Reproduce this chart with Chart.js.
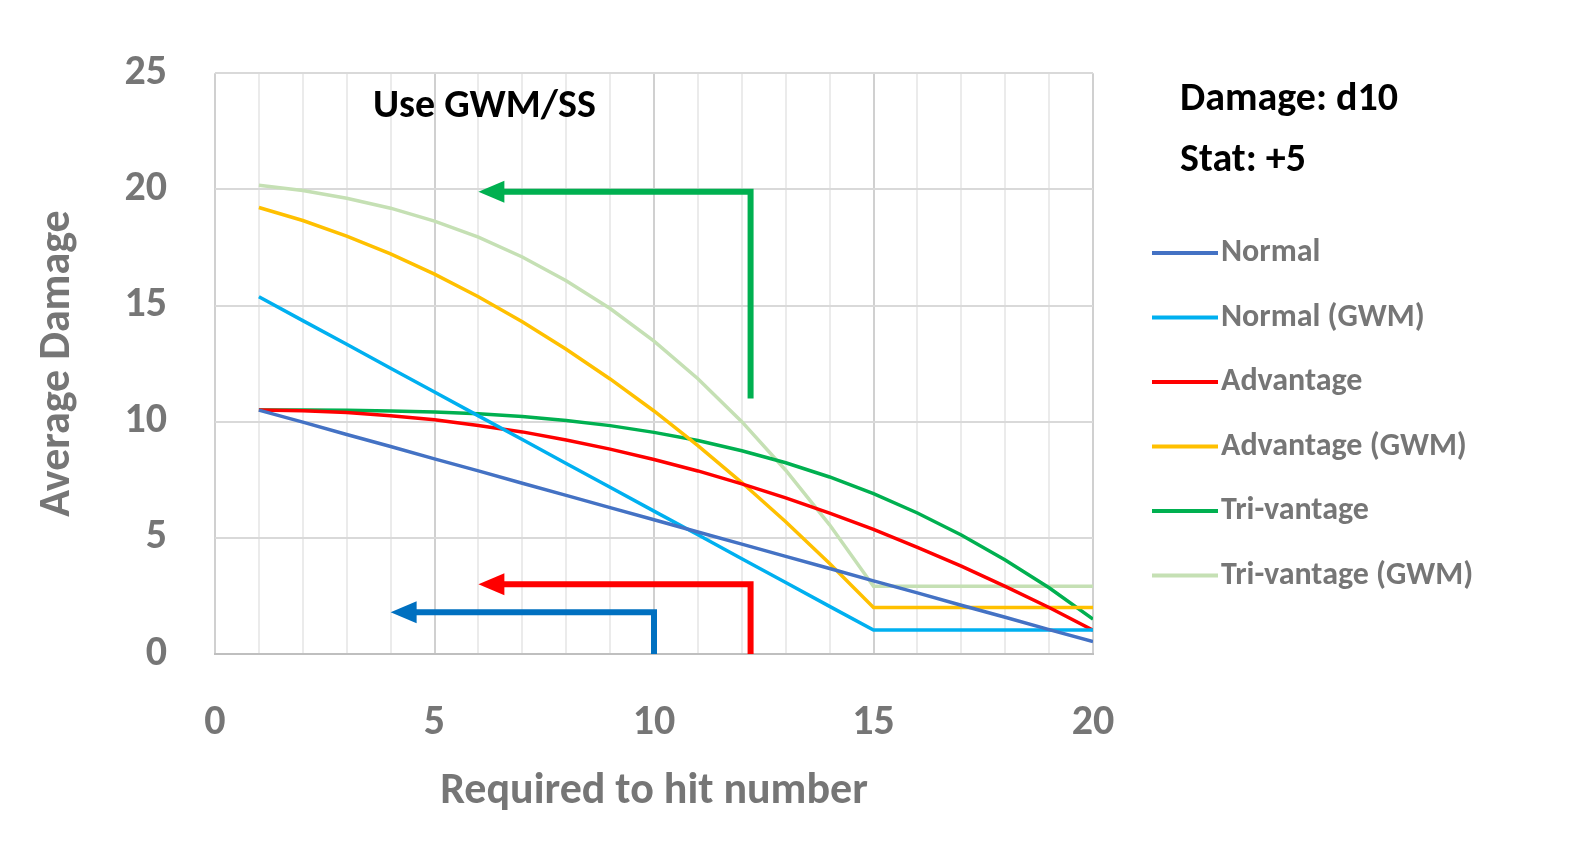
<!DOCTYPE html>
<html><head><meta charset="utf-8">
<script src="https://cdn.jsdelivr.net/npm/chart.js@4"></script>
<style>html,body{margin:0;padding:0;background:#fff}#c{display:block}</style>
</head><body>
<div style="width:1581px;height:864px;position:relative"><canvas id="c" width="1581" height="864"></canvas></div>
<script>
const hitNumbers = [1,2,3,4,5,6,7,8,9,10,11,12,13,14,15,16,17,18,19,20];
const normal = [10.5,9.98,9.45,8.93,8.4,7.88,7.35,6.83,6.3,5.78,5.25,4.73,4.2,3.68,3.15,2.63,2.1,1.58,1.05,0.53];
const normalGWM = [15.38,14.35,13.33,12.3,11.28,10.25,9.23,8.2,7.18,6.15,5.13,4.1,3.08,2.05,1.03,1.03,1.03,1.03,1.03,1.03];
const advantage = [10.5,10.47,10.40,10.26,10.08,9.84,9.56,9.21,8.82,8.37,7.88,7.32,6.72,6.06,5.36,4.59,3.78,2.91,2.0,1.02];
const advantageGWM = [19.22,18.66,17.99,17.22,16.35,15.38,14.30,13.12,11.84,10.46,8.97,7.38,5.69,3.90,2.0,2.0,2.0,2.0,2.0,2.0];
const trivantage = [10.5,10.5,10.49,10.46,10.42,10.34,10.22,10.05,9.83,9.54,9.19,8.75,8.23,7.62,6.90,6.07,5.12,4.05,2.85,1.5];
const trivantageGWM = [20.18,19.95,19.62,19.19,18.63,17.94,17.09,16.07,14.87,13.47,11.85,10.0,7.91,5.56,2.92,2.92,2.92,2.92,2.92,2.92];
const seriesNames = ["Normal","Normal (GWM)","Advantage","Advantage (GWM)","Tri-vantage","Tri-vantage (GWM)"];
const seriesColors = ["#4472C4","#00B0F0","#FF0000","#FFC000","#00B050","#C5E0B4"];
const seriesData = [normal,normalGWM,advantage,advantageGWM,trivantage,trivantageGWM];
const arrows = [
  ["#00B050", [[12.2,11],[12.2,19.9],[6,19.9]]],
  ["#FF0000", [[12.2,0],[12.2,3],[6,3]]],
  ["#0070C0", [[10,0],[10,1.8],[4,1.8]]]
];
const gray = "#767676";
const F = "Calibri, 'Open Sans', 'Liberation Sans', sans-serif";

const overlay = {
  id:'overlay',
  afterDatasetsDraw(chart){
    const ctx=chart.ctx, xs=chart.scales.x, ys=chart.scales.y;
    ctx.save();
    arrows.forEach(([col,pts])=>{
      const P=pts.map(p=>[xs.getPixelForValue(p[0]),ys.getPixelForValue(p[1])]);
      ctx.strokeStyle=col; ctx.fillStyle=col; ctx.lineWidth=6; ctx.lineCap='butt';
      const last=P[P.length-1];
      ctx.beginPath(); ctx.moveTo(P[0][0],P[0][1]);
      for(let i=1;i<P.length-1;i++) ctx.lineTo(P[i][0],P[i][1]);
      ctx.lineTo(last[0]+22,last[1]); ctx.stroke();
      ctx.beginPath(); ctx.moveTo(last[0],last[1]); ctx.lineTo(last[0]+26,last[1]-11); ctx.lineTo(last[0]+26,last[1]+11); ctx.closePath(); ctx.fill();
    });
    ctx.fillStyle="#000"; ctx.font="bold 40px "+F; ctx.textBaseline='middle';
    ctx.fillText("Use GWM/SS",373,107);
    ctx.fillText("Damage: d10",1180,100);
    ctx.fillText("Stat: +5",1180,161);
    ctx.font="bold 32px "+F;
    seriesNames.forEach((n,i)=>{
      const y=253+i*64.5;
      ctx.strokeStyle=seriesColors[i]; ctx.lineWidth=4;
      ctx.beginPath(); ctx.moveTo(1152,y); ctx.lineTo(1218,y); ctx.stroke();
      ctx.fillStyle=gray; ctx.fillText(n,1221,y);
    });
    ctx.restore();
  }
};

new Chart(document.getElementById('c'),{
  type:'line',
  data:{datasets:seriesNames.map((n,i)=>({label:n,data:hitNumbers.map((x,j)=>({x:x,y:seriesData[i][j]})),borderColor:seriesColors[i],borderWidth:3.5,pointRadius:0,tension:0,fill:false}))},
  options:{
    responsive:false,animation:false,
    layout:{padding:{top:26,right:488,left:0,bottom:0}},
    plugins:{legend:{display:false},tooltip:{enabled:false}},
    scales:{
      x:{type:'linear',min:0,max:20,
        afterFit(s){s.height=210;},
        ticks:{stepSize:1,autoSkip:false,maxRotation:0,minRotation:0,padding:44,color:gray,font:{family:F,size:42,weight:'bold'},callback:v=>v%5===0?v:''},
        grid:{drawTicks:false,color:c=>c.tick.value%5===0?'#D0D0D0':'#EBEBEB',lineWidth:2},
        border:{display:true,color:'#BFBFBF',width:2},
        title:{display:true,text:'Required to hit number',color:gray,font:{family:F,size:44,weight:'bold'},padding:{top:0,bottom:46}}},
      y:{min:0,max:25,
        afterFit(s){s.width=215;},
        ticks:{stepSize:5,padding:48,color:gray,font:{family:F,size:42,weight:'bold'}},
        grid:{drawTicks:false,color:'#D9D9D9',lineWidth:2},
        border:{display:false},
        title:{display:true,text:'Average Damage',color:gray,font:{family:F,size:44,weight:'bold'},padding:{top:32,bottom:0}}}
    }
  },
  plugins:[overlay]
});
</script></body></html>
